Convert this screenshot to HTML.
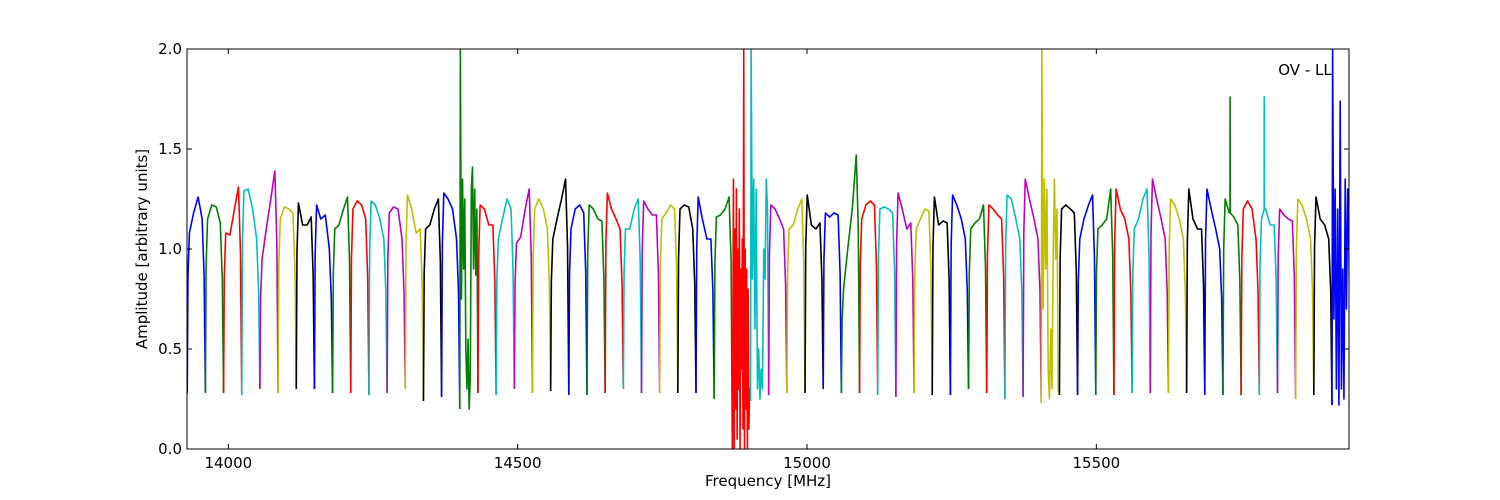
<!DOCTYPE html>
<html><head><meta charset="utf-8"><style>
html,body{margin:0;padding:0;background:#fff;}
svg{display:block;font-family:"DejaVu Sans","Liberation Sans",sans-serif;}
</style></head><body>
<svg id="chart" width="1500" height="500" viewBox="0 0 1500 500">
<defs><clipPath id="plotclip"><rect x="187" y="49" width="1162" height="400"/></clipPath></defs>
<rect x="0" y="0" width="1500" height="500" fill="#fff"/>
<g id="series" clip-path="url(#plotclip)"></g>
<rect x="187" y="49" width="1162" height="400" fill="none" stroke="#000" stroke-width="1"/>
<g id="axes"></g>
<text x="1305" y="75" font-size="15" text-anchor="middle">OV - LL</text>
<text x="768" y="486" font-size="15" text-anchor="middle">Frequency [MHz]</text>
<text transform="translate(147,249) rotate(-90)" font-size="15" text-anchor="middle">Amplitude [arbitrary units]</text>
</svg>
<script>
const xTicks = [14000, 14500, 15000, 15500];
const yTicks = [0.0, 0.5, 1.0, 1.5, 2.0];
const yTickLabels = ["0.0", "0.5", "1.0", "1.5", "2.0"];
const colors = ["#0000ff", "#008000", "#ff0000", "#00bfbf", "#bf00bf", "#bfbf00", "#000000"];
const bandStartMHz = 13929;
const bandWidthMHz = 31.4;
const dipLevels = [0.28,0.28,0.28,0.27,0.3,0.28,0.3,0.3,0.28,0.28,0.27,0.28,0.3,0.24,0.26,0.2,0.28,0.27,0.3,0.28,0.29,0.27,0.27,0.28,0.3,0.28,0.28,0.28,0.28,0.25,0.0,0.24,0.27,0.28,0.28,0.3,0.28,0.28,0.27,0.26,0.28,0.27,0.27,0.3,0.28,0.25,0.26,0.23,0.27,0.27,0.27,0.27,0.28,0.28,0.28,0.28,0.27,0.27,0.27,0.27,0.28,0.25,0.27,0.22];
const bandLevels = [
[1.08,1.18,1.26,1.15],[1.15,1.22,1.21,1.13],[1.08,1.07,1.2,1.31],[1.29,1.3,1.2,1.05],
[0.95,1.1,1.25,1.39],[1.15,1.21,1.2,1.18],[1.23,1.12,1.12,1.16],[1.22,1.15,1.17,1.0],
[1.1,1.12,1.2,1.26],[1.2,1.24,1.22,1.15],[1.24,1.22,1.15,1.05],[1.18,1.21,1.2,1.05],
[1.27,1.2,1.08,1.1],[1.1,1.12,1.2,1.25],[1.28,1.25,1.2,1.05],null,
[1.22,1.2,1.12,1.12],[1.05,1.15,1.25,1.2],[1.03,1.06,1.2,1.3],[1.2,1.25,1.2,1.1],
[1.05,1.15,1.25,1.35],[1.1,1.2,1.22,1.18],[1.22,1.2,1.15,1.14],[1.28,1.2,1.15,1.1],
[1.1,1.1,1.2,1.25],[1.24,1.2,1.17,1.17],[1.15,1.18,1.22,1.2],[1.2,1.22,1.21,1.1],
[1.26,1.15,1.05,1.05],[1.16,1.17,1.2,1.26],null,null,
[1.22,1.2,1.15,1.1],[1.1,1.12,1.2,1.25],[1.27,1.12,1.1,1.13],[1.18,1.16,1.18,1.17],
[0.8,1.0,1.2,1.47],[1.15,1.22,1.24,1.22],[1.2,1.21,1.2,1.18],[1.28,1.2,1.1,1.13],
[1.1,1.15,1.2,1.19],[1.26,1.12,1.14,1.13],[1.27,1.22,1.15,1.05],[1.1,1.13,1.15,1.22],
[1.22,1.2,1.17,1.15],[1.27,1.25,1.15,1.05],[1.35,1.25,1.15,1.05],null,
[1.2,1.22,1.2,1.18],[1.05,1.15,1.22,1.27],[1.1,1.12,1.15,1.3],[1.3,1.2,1.15,1.05],
[1.1,1.15,1.25,1.3],[1.35,1.25,1.15,1.05],[1.25,1.22,1.15,1.05],[1.3,1.15,1.1,1.1],
[1.3,1.2,1.1,1.0],[1.25,1.18,1.16,1.12],[1.2,1.24,1.2,1.05],[1.15,1.2,1.12,1.12],
[1.2,1.17,1.15,1.14],[1.25,1.22,1.15,1.05],[1.26,1.15,1.12,1.05],null
];
const noisyBands = {
15: [2.0,0.75,1.35,0.9,1.25,0.5,0.3,0.55,0.2,0.35,1.3,1.41,0.9,1.3,0.87,1.2],
30: [0.3,1.35,0.0,1.1,0.2,1.3,0.05,1.0,0.3,1.2,0.0,0.9,0.4,1.05,0.1,2.0,0.0,1.0,0.2,0.9,0.0,0.8,0.1,0.3],
31: [2.0,0.85,1.35,0.6,1.3,0.3,0.5,0.25,0.4,0.3,1.0,0.85,1.35,1.2],
47: [2.0,0.7,1.35,0.9,1.3,0.4,0.25,0.6,0.3,1.0,1.35,0.95,1.2,0.3],
63: [2.0,0.65,1.3,0.3,1.2,0.22,1.74,0.3,0.9,0.25,1.35,0.7,1.3,1.0]
};
const spikeFreqs = [15731, 15790];
const spikeValues = [1.76, 1.76];
const spikeBands = [57, 59];

const X0 = 187, X1 = 1349, Y0 = 449, Y1 = 49;
const fMin = 13928.6, fMax = 15936.6, vMin = 0, vMax = 2;
const xs = f => X0 + (f - fMin) / (fMax - fMin) * (X1 - X0);
const ys = v => Y0 - (v - vMin) / (vMax - vMin) * (Y0 - Y1);
const NS = "http://www.w3.org/2000/svg";
const series = document.getElementById("series");
const axes = document.getElementById("axes");
const shapePos = [0, 0.04, 0.12, 0.35, 0.6, 0.82, 0.93];

for (let i = 0; i < bandLevels.length; i++) {
  const f0 = bandStartMHz + i * bandWidthMHz;
  const pts = [];
  const noisy = noisyBands[i];
  if (noisy) {
    pts.push([f0, dipLevels[i]]);
    noisy.forEach((v, k) => pts.push([f0 + (k + 0.5) / noisy.length * bandWidthMHz * 0.97, v]));
  } else {
    const a = bandLevels[i];
    const vals = [dipLevels[i], a[0] * 0.8, a[0], a[1], a[2], a[3], a[3] * 0.75];
    vals.forEach((v, k) => pts.push([f0 + shapePos[k] * bandWidthMHz, v]));
    const sIdx = spikeBands.indexOf(i);
    if (sIdx >= 0) {
      const sf = spikeFreqs[sIdx];
      pts.push([sf, a[1]], [sf + 0.1, spikeValues[sIdx]], [sf + 0.5, a[1]]);
      pts.sort((p, q) => p[0] - q[0]);
    }
  }
  const nextDip = i + 1 < dipLevels.length ? dipLevels[i + 1] : 0.28;
  pts.push([f0 + bandWidthMHz, nextDip]);
  const d = pts.map((p, k) => (k ? "L" : "M") + xs(p[0]).toFixed(2) + "," + ys(p[1]).toFixed(2)).join(" ");
  const path = document.createElementNS(NS, "path");
  path.setAttribute("d", d);
  path.setAttribute("fill", "none");
  path.setAttribute("stroke", colors[i % 7]);
  path.setAttribute("stroke-width", "1.6");
  path.setAttribute("stroke-linejoin", "round");
  
  
  series.appendChild(path);
}

xTicks.forEach(t => {
  const x = xs(t);
  const g = document.createElementNS(NS, "g");
  
  
  g.innerHTML = `<line x1="${x}" y1="${Y0}" x2="${x}" y2="${Y0 - 5}" stroke="#000"/><line x1="${x}" y1="${Y1}" x2="${x}" y2="${Y1 + 5}" stroke="#000"/><text x="${x}" y="${Y0 + 19}" font-size="15" text-anchor="middle">${t}</text>`;
  axes.appendChild(g);
});
yTicks.forEach((t, k) => {
  const y = ys(t);
  const g = document.createElementNS(NS, "g");
  
  
  g.innerHTML = `<line x1="${X0}" y1="${y}" x2="${X0 + 5}" y2="${y}" stroke="#000"/><line x1="${X1}" y1="${y}" x2="${X1 - 5}" y2="${y}" stroke="#000"/><text x="${X0 - 5}" y="${y + 5}" font-size="15" text-anchor="end">${yTickLabels[k]}</text>`;
  axes.appendChild(g);
});
</script>
</body></html>
